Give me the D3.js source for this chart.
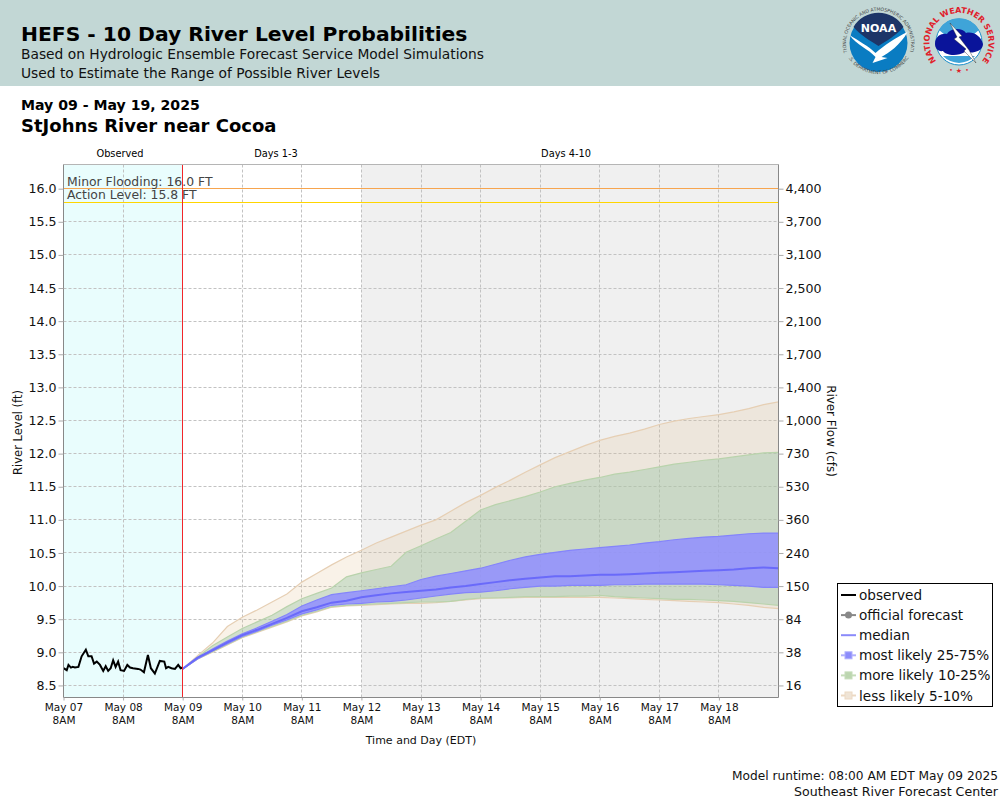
<!DOCTYPE html>
<html>
<head>
<meta charset="utf-8">
<title>HEFS - 10 Day River Level Probabilities</title>
<script src="https://cdn.jsdelivr.net/npm/d3@7"></script>
<style>
	html, body { margin: 0; padding: 0; background: #fff; }
	svg { display: block; font-family: "DejaVu Sans", sans-serif; }
	.grid line { stroke: #c2c2c2; stroke-width: 1; stroke-dasharray: 3 2; }
	.tick-axis path { display: none; }
	.tick-axis line { stroke: #aaa; }
	.tick-axis text { fill: #111; }
</style>
</head>
<body>
<div id="chart"></div>
<script>
// Axis ticks
const levelTicks = [16.0, 15.5, 15.0, 14.5, 14.0, 13.5, 13.0, 12.5, 12.0, 11.5, 11.0, 10.5, 10.0, 9.5, 9.0, 8.5];
const flowLabels = ["4,400", "3,700", "3,100", "2,500", "2,100", "1,700", "1,400", "1,000", "730", "530", "360", "240", "150", "84", "38", "16"];

// Observed river level, hours after May 07 8AM
const observedHours = [0, 1.3, 2, 3, 3.7, 4.6, 6, 7.3, 9, 10, 11.3, 12.3, 13.4, 14.7, 16, 17, 18, 19, 20, 21, 22, 23, 24.4, 25.7, 26.8, 28, 30, 31, 32.4, 34, 35.2, 36.8, 38.8, 40.6, 41.3, 42.2, 43.5, 44.9, 46.2, 47.2, 48];
const observedLevels = [8.76, 8.73, 8.81, 8.77, 8.78, 8.77, 8.78, 8.94, 9.04, 8.94, 8.94, 8.83, 8.86, 8.81, 8.72, 8.79, 8.72, 8.76, 8.88, 8.78, 8.86, 8.73, 8.72, 8.81, 8.77, 8.76, 8.75, 8.74, 8.70, 8.96, 8.76, 8.68, 8.87, 8.86, 8.76, 8.78, 8.76, 8.75, 8.81, 8.76, 8.77];

// Forecast percentiles, one value every 6 hours from May 09 8AM
const upper5 = [8.75, 8.95, 9.14, 9.39, 9.53, 9.64, 9.76, 9.88, 10.06, 10.19, 10.32, 10.44, 10.54, 10.65, 10.74, 10.83, 10.92, 11.0, 11.13, 11.26, 11.37, 11.49, 11.6, 11.72, 11.83, 11.94, 12.03, 12.12, 12.2, 12.26, 12.31, 12.37, 12.44, 12.49, 12.53, 12.56, 12.59, 12.63, 12.68, 12.74, 12.78];
const upper10 = [8.75, 8.93, 9.1, 9.23, 9.36, 9.46, 9.56, 9.69, 9.81, 9.89, 9.97, 10.14, 10.2, 10.25, 10.3, 10.51, 10.61, 10.71, 10.81, 10.98, 11.15, 11.23, 11.29, 11.35, 11.42, 11.5, 11.55, 11.6, 11.64, 11.69, 11.72, 11.76, 11.8, 11.84, 11.87, 11.9, 11.92, 11.95, 11.98, 12.01, 12.02];
const upper25 = [8.75, 8.92, 9.05, 9.17, 9.28, 9.37, 9.47, 9.57, 9.7, 9.79, 9.87, 9.9, 9.93, 9.96, 9.99, 10.02, 10.1, 10.15, 10.19, 10.23, 10.27, 10.33, 10.39, 10.44, 10.48, 10.51, 10.54, 10.56, 10.58, 10.6, 10.62, 10.65, 10.67, 10.7, 10.72, 10.74, 10.75, 10.77, 10.79, 10.8, 10.8];
const median = [8.75, 8.92, 9.03, 9.15, 9.26, 9.34, 9.43, 9.52, 9.62, 9.68, 9.75, 9.78, 9.83, 9.86, 9.89, 9.91, 9.93, 9.95, 9.98, 10.0, 10.03, 10.06, 10.09, 10.11, 10.13, 10.15, 10.15, 10.16, 10.17, 10.17, 10.18, 10.19, 10.2, 10.21, 10.22, 10.23, 10.24, 10.25, 10.27, 10.28, 10.27];
const lower25 = [8.75, 8.9, 9.02, 9.13, 9.24, 9.32, 9.41, 9.49, 9.58, 9.64, 9.71, 9.73, 9.74, 9.76, 9.77, 9.79, 9.82, 9.85, 9.88, 9.9, 9.91, 9.93, 9.96, 9.98, 10.0, 10.0, 10.01, 10.01, 10.01, 10.02, 10.02, 10.03, 10.03, 10.03, 10.03, 10.03, 10.02, 10.01, 10.0, 9.98, 9.98];
const lower10 = [8.75, 8.9, 9.01, 9.12, 9.23, 9.31, 9.39, 9.47, 9.56, 9.62, 9.69, 9.71, 9.72, 9.73, 9.74, 9.75, 9.76, 9.76, 9.77, 9.8, 9.82, 9.82, 9.83, 9.84, 9.84, 9.84, 9.85, 9.85, 9.86, 9.84, 9.83, 9.82, 9.81, 9.8, 9.8, 9.79, 9.78, 9.77, 9.75, 9.73, 9.71];
const lower5 = [8.75, 8.9, 9.0, 9.11, 9.22, 9.3, 9.38, 9.46, 9.55, 9.61, 9.68, 9.7, 9.71, 9.72, 9.73, 9.74, 9.74, 9.75, 9.77, 9.79, 9.81, 9.82, 9.82, 9.83, 9.83, 9.83, 9.83, 9.83, 9.83, 9.82, 9.81, 9.8, 9.79, 9.78, 9.77, 9.76, 9.75, 9.73, 9.71, 9.68, 9.66];

// Flood thresholds and legend
const thresholdValues = [16.0, 15.8];
const thresholdLabels = ["Minor Flooding: 16.0 FT", "Action Level: 15.8 FT"];
const legendLabels = ["observed", "official forecast", "median", "most likely 25-75%", "more likely 10-25%", "less likely 5-10%"];

const width = 1000, height = 800;
const plot = { left: 63.5, right: 778.5, top: 164.5, bottom: 697.5 };

const startTime = Date.UTC(2025, 4, 7, 8);
const hourToDate = h => new Date(startTime + h * 3600000);
const forecastHours = upper5.map((d, i) => 48 + i * 6);
const dayHours = d3.range(0, 288, 24);

const x = d3.scaleUtc().domain([hourToDate(0), hourToDate(288)]).range([plot.left, plot.right]);
const y = d3.scaleLinear().domain([8.318, 16.365]).range([plot.bottom, plot.top]);

const svg = d3.select("#chart").append("svg").attr("width", width).attr("height", height);

// Header banner
svg.append("rect").attr("width", width).attr("height", 86).attr("fill", "#c2d7d5");

function addText(parent, px, py, str, size, weight, anchor, color) {
	return parent.append("text")
		.attr("x", px).attr("y", py)
		.attr("font-size", size)
		.attr("font-weight", weight || "normal")
		.attr("text-anchor", anchor || "start")
		.attr("fill", color || "#000")
		.text(str);
}

addText(svg, 21, 41, "HEFS - 10 Day River Level Probabilities", 20.3, "bold");
addText(svg, 21, 59, "Based on Hydrologic Ensemble Forecast Service Model Simulations", 13.8, "normal", "start", "#111");
addText(svg, 21, 78, "Used to Estimate the Range of Possible River Levels", 13.8, "normal", "start", "#111");
addText(svg, 21, 110, "May 09 - May 19, 2025", 14.1, "bold");
addText(svg, 21, 132, "StJohns River near Cocoa", 18, "bold");

// NOAA logo
function drawNoaaLogo() {
	const g = svg.append("g").attr("transform", "translate(878.5,43)");
	g.append("circle").attr("r", 29).attr("fill", "#0a7cc2");
	g.append("path").attr("fill", "#1d3568")
		.attr("d", "M-25,-16 A29,29 0 0 1 25,-16 C18,-8 8,-2 0,3 C-8,-2 -18,-8 -25,-16 Z");
	g.append("path").attr("fill", "#fff")
		.attr("d", "M-29,-8 C-20,-2 -10,3 -3,10 C5,3 18,-6 29,-11 C22,2 10,10 3,14 L9,15 L-6,20 L-3,14 C-10,6 -22,2 -29,-8 Z");
	addText(g, 0, -11, "NOAA", 11, "bold", "middle", "#fff");
	g.append("path").attr("id", "noaaArc").attr("fill", "none").attr("d", "M-31,10 A32.5,32.5 0 1 1 31,10");
	g.append("text").attr("font-size", 4.6).attr("fill", "#444")
		.append("textPath").attr("href", "#noaaArc").attr("startOffset", "50%").attr("text-anchor", "middle")
		.text("NATIONAL OCEANIC AND ATMOSPHERIC ADMINISTRATION");
	g.append("path").attr("id", "noaaArcLow").attr("fill", "none").attr("d", "M-30,15 A36,36 0 0 0 30,15");
	g.append("text").attr("font-size", 4.6).attr("fill", "#444")
		.append("textPath").attr("href", "#noaaArcLow").attr("startOffset", "50%").attr("text-anchor", "middle")
		.text("U.S. DEPARTMENT OF COMMERCE");
}

// NWS logo
function drawNwsLogo() {
	const g = svg.append("g").attr("transform", "translate(959,42)");
	g.append("circle").attr("r", 23).attr("fill", "#fff").attr("stroke", "#1b8ec9").attr("stroke-width", 1);
	g.append("path").attr("fill", "#3fa4d8").attr("d", "M-20,-12 A23,23 0 0 1 20,-12 L14,-7 L-14,-7 Z");
	g.append("path").attr("fill", "#3fa4d8").attr("d", "M-16,14 A22,22 0 0 0 16,14 Z");
	g.append("path").attr("fill", "#0a149a")
		.attr("d", "M-24,2 C-24,-7 -16,-9 -12,-8 C-8,-15 4,-14 7,-9 C14,-11 22,-6 24,2 C24,9 14,12 6,10 C-2,15 -14,13 -16,9 C-21,10 -24,6 -24,2 Z");
	g.append("path").attr("fill", "#fff").attr("stroke", "#222").attr("stroke-width", 0.4)
		.attr("d", "M-9,-19 L3,-6 L0,-5 L10,8 L17,21 L5,9 L7,7 L-5,-3 L-2,-5 Z");
	g.append("path").attr("id", "nwsArc").attr("fill", "none").attr("d", "M-20,22 A29.5,29.5 0 1 1 20,22");
	g.append("text").attr("font-size", 8).attr("font-weight", "bold").attr("fill", "#e0202a")
		.append("textPath").attr("href", "#nwsArc").attr("startOffset", "50%").attr("text-anchor", "middle")
		.text("NATIONAL WEATHER SERVICE");
	addText(g, 0, 31, "★", 7, "normal", "middle", "#e0202a");
	addText(g, -8, 30, "•", 6, "normal", "middle", "#e0202a");
	addText(g, 8, 30, "•", 6, "normal", "middle", "#e0202a");
}

drawNoaaLogo();
drawNwsLogo();

// Plot background regions
svg.append("rect").attr("x", plot.left).attr("y", plot.top)
	.attr("width", x(hourToDate(48)) - plot.left).attr("height", plot.bottom - plot.top).attr("fill", "#e9fdfd");
svg.append("rect").attr("x", x(hourToDate(120))).attr("y", plot.top)
	.attr("width", plot.right - x(hourToDate(120))).attr("height", plot.bottom - plot.top).attr("fill", "#f0f0f0");

// Section labels over the plot
addText(svg, 120, 157, "Observed", 9.8, "normal", "middle");
addText(svg, 276, 157, "Days 1-3", 9.8, "normal", "middle");
addText(svg, 566, 157, "Days 4-10", 9.8, "normal", "middle");

// Grid lines
const grid = svg.append("g").attr("class", "grid");
grid.selectAll(".h").data(levelTicks).join("line").attr("class", "h")
	.attr("x1", plot.left).attr("x2", plot.right)
	.attr("y1", d => Math.floor(y(d)) + 0.5).attr("y2", d => Math.floor(y(d)) + 0.5);
grid.selectAll(".v").data(dayHours.slice(1)).join("line").attr("class", "v")
	.attr("y1", plot.top).attr("y2", plot.bottom)
	.attr("x1", d => Math.floor(x(hourToDate(d))) + 0.5).attr("x2", d => Math.floor(x(hourToDate(d))) + 0.5);

// Forecast bands
function drawBand(lower, upper, fill, edge) {
	const area = d3.area()
		.x((d, i) => x(hourToDate(forecastHours[i])))
		.y0((d, i) => y(lower[i]))
		.y1((d, i) => y(upper[i]));
	const line = d3.line()
		.x((d, i) => x(hourToDate(forecastHours[i])))
		.y(d => y(d));
	svg.append("path").attr("d", area(upper)).attr("fill", fill);
	svg.append("path").attr("d", line(upper)).attr("fill", "none").attr("stroke", edge).attr("stroke-width", 1.2);
	svg.append("path").attr("d", line(lower)).attr("fill", "none").attr("stroke", edge).attr("stroke-width", 1.2);
}

drawBand(lower5, upper5, "rgba(225,190,140,0.2)", "#e6cfb4");
drawBand(lower10, upper10, "rgba(160,200,170,0.45)", "#b9d3ac");
drawBand(lower25, upper25, "rgba(145,142,255,0.85)", "#8484fb");

// Median line
const medianLine = d3.line()
	.x((d, i) => x(hourToDate(forecastHours[i])))
	.y(d => y(d));
svg.append("path").attr("d", medianLine(median))
	.attr("fill", "none").attr("stroke", "#6a6afa").attr("stroke-width", 2);

// Observed line
const observedLine = d3.line()
	.x((d, i) => x(hourToDate(observedHours[i])))
	.y(d => y(d));
svg.append("path").attr("d", observedLine(observedLevels))
	.attr("fill", "none").attr("stroke", "#000").attr("stroke-width", 2);

// Thresholds
const thresholdColors = ["#f7a54e", "#ffd500"];
thresholdValues.forEach((v, i) => {
	const lineY = Math.round(y(v) - 0.4) + 0.5;
	svg.append("line").attr("x1", plot.left).attr("x2", plot.right)
		.attr("y1", lineY).attr("y2", lineY)
		.attr("stroke", thresholdColors[i]).attr("stroke-width", 1.2);
	addText(svg, 67, y(v) - 3, thresholdLabels[i], 12.4, "normal", "start", "#444");
});

// Forecast start line
svg.append("line")
	.attr("x1", 182.5).attr("x2", 182.5)
	.attr("y1", plot.top).attr("y2", plot.bottom)
	.attr("stroke", "#f2262a").attr("stroke-width", 1);

// Plot frame
svg.append("path").attr("fill", "none").attr("stroke", "#b5b5b5")
	.attr("d", `M${plot.left},${plot.top}H${plot.right}`);
svg.append("path").attr("fill", "none").attr("stroke", "#888")
	.attr("d", `M${plot.left},${plot.top}V${plot.bottom}H${plot.right}V${plot.top}`);

// Left axis
const leftAxis = svg.append("g").attr("class", "tick-axis")
	.attr("transform", `translate(${plot.left},0)`)
	.call(d3.axisLeft(y).tickValues(levelTicks).tickFormat(d3.format(".1f")).tickSize(5).tickPadding(2));
leftAxis.selectAll("text").attr("font-size", 12.6).attr("font-family", "DejaVu Sans");

// Right axis
const rightAxis = svg.append("g").attr("class", "tick-axis")
	.attr("transform", `translate(${plot.right},0)`)
	.call(d3.axisRight(y).tickValues(levelTicks).tickFormat((d, i) => flowLabels[i]).tickSize(5).tickPadding(2));
rightAxis.selectAll("text").attr("font-size", 12.6).attr("font-family", "DejaVu Sans");

// Bottom axis
const bottomAxis = svg.append("g").attr("class", "tick-axis")
	.attr("transform", `translate(0,${plot.bottom})`)
	.call(d3.axisBottom(x).tickValues(dayHours.map(hourToDate)).tickSize(3).tickFormat(""));
bottomAxis.selectAll(".tick text").each(function(d) {
	const label = d3.select(this).attr("font-size", 10.5).attr("font-family", "DejaVu Sans");
	label.append("tspan").attr("x", 0).attr("dy", "0.75em").text(d3.utcFormat("%b %d")(d));
	label.append("tspan").attr("x", 0).attr("dy", "1.2em").text("8AM");
});

// Axis titles
addText(svg, 0, 0, "River Level (ft)", 11.5, "normal", "middle", "#111").attr("transform", "translate(22,432.5) rotate(-90)");
addText(svg, 0, 0, "River Flow (cfs)", 11.9, "normal", "middle", "#111").attr("transform", "translate(827,431) rotate(90)");
addText(svg, 421, 744, "Time and Day (EDT)", 11, "normal", "middle", "#111");

// Legend
const legend = svg.append("g").attr("transform", "translate(838,584)");
legend.append("rect").attr("x", -0.5).attr("y", -0.5).attr("width", 155).attr("height", 123).attr("fill", "#fff").attr("stroke", "#000");
const legendStyles = [
	{ line: "#000", width: 2 },
	{ line: "#888", width: 2, dot: "#888" },
	{ line: "#8a8afa", width: 2 },
	{ line: "#b0b0fc", width: 2, box: "#8c8cfb" },
	{ line: "#c5dcb9", width: 2, box: "#bcd6b0" },
	{ line: "#ecd9c3", width: 2, box: "#efe4d6" }
];
legendLabels.forEach((label, i) => {
	const rowY = 11 + i * 20.1;
	const style = legendStyles[i];
	legend.append("line").attr("x1", 3).attr("x2", 18).attr("y1", rowY).attr("y2", rowY)
		.attr("stroke", style.line).attr("stroke-width", style.width);
	if (style.dot) {
		legend.append("circle").attr("cx", 10.5).attr("cy", rowY).attr("r", 3.5).attr("fill", style.dot);
	}
	if (style.box) {
		legend.append("rect").attr("x", 7).attr("y", rowY - 3.5).attr("width", 7).attr("height", 7)
			.attr("fill", style.box).attr("stroke", style.line);
	}
	addText(legend, 21, rowY + 5, label, 13.6, "normal", "start", "#111");
});

// Footer
addText(svg, 998, 780, "Model runtime: 08:00 AM EDT May 09 2025", 12.2, "normal", "end", "#111");
addText(svg, 998, 796, "Southeast River Forecast Center", 12.6, "normal", "end", "#111");
</script>
</body>
</html>
